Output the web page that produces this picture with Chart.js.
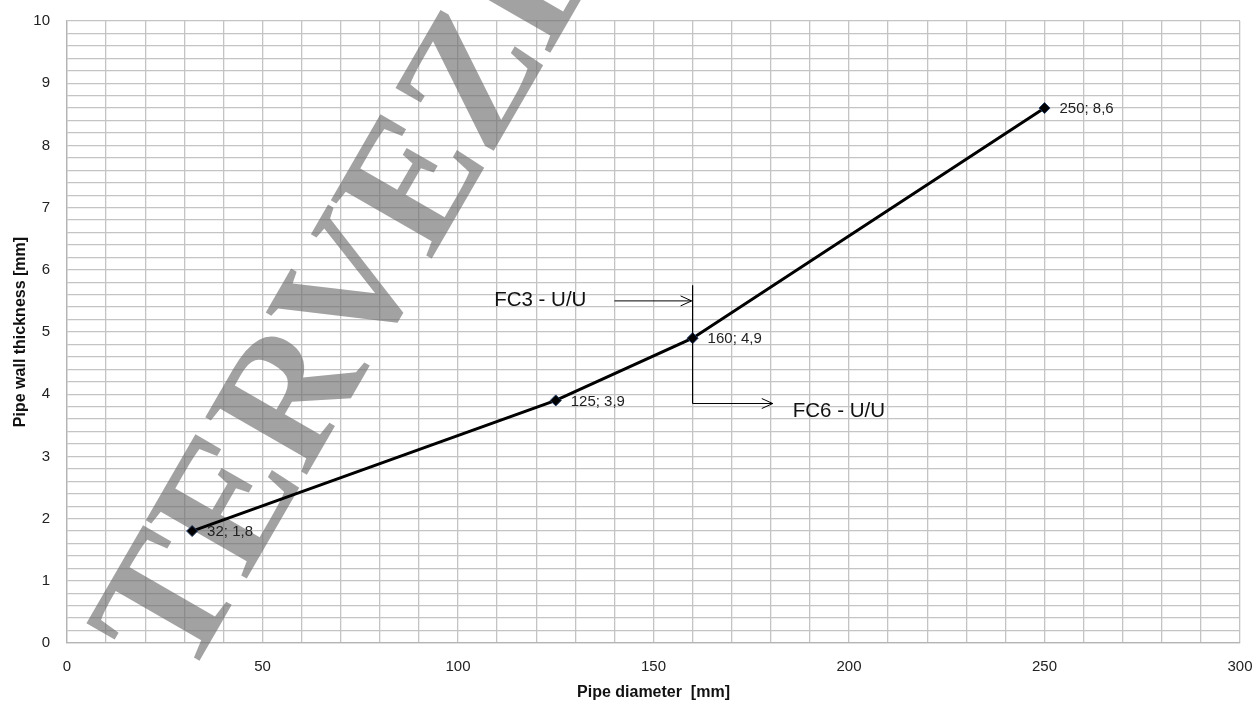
<!DOCTYPE html>
<html>
<head>
<meta charset="utf-8">
<script src="https://cdn.jsdelivr.net/npm/chart.js@4.4.1/dist/chart.umd.min.js"></script>
<style>
  html, body { margin: 0; padding: 0; background: #fff; }
  #wrap { width: 1255px; height: 702px; position: relative; }
</style>
</head>
<body>
<div id="wrap"><canvas id="pipeChart"></canvas></div>
<script>
// data
const diameters = [32, 125, 160, 250];
const thickness = [1.8, 3.9, 4.9, 8.6];
const xTickLabels = [0, 50, 100, 150, 200, 250, 300];
const yTickLabels = [0, 1, 2, 3, 4, 5, 6, 7, 8, 9, 10];

// FC3 / FC6 markers (data coords)
const fcLineX = 160;
const fcLineY = [5.75, 3.85];
const fc3Arrow = { from: 140, to: 160, y: 5.5, label: 'FC3 - U/U' };
const fc6Arrow = { from: 160, to: 180.5, y: 3.85, label: 'FC6 - U/U' };

const watermarkText = 'TERVEZET';

const fmt = v => String(v).replace('.', ',');

const watermark = {
    id: 'watermark',
    beforeDatasetsDraw(chart) {
        const c = chart.ctx;
        c.save();
        c.translate(186, 684);
        c.rotate(-60 * Math.PI / 180);
        c.font = 'bold 178px "Liberation Serif"';
        c.fillStyle = 'rgba(105,105,105,0.62)';
        c.textBaseline = 'alphabetic';
        c.fillText(watermarkText, 0, 0);
        c.restore();
    }
};

function arrow(c, x1, y1, x2, y2) {
    c.beginPath();
    c.moveTo(x1, y1);
    c.lineTo(x2, y2);
    c.stroke();
    const dir = Math.sign(x2 - x1);
    c.beginPath();
    c.moveTo(x2 - dir * 11, y1 - 5);
    c.lineTo(x2, y2);
    c.lineTo(x2 - dir * 11, y1 + 5);
    c.stroke();
}

const extras = {
    id: 'extras',
    afterDatasetsDraw(chart) {
        const c = chart.ctx;
        const xs = chart.scales.x, ys = chart.scales.y;
        c.save();
        // point labels
        c.font = '15px "Liberation Sans"';
        c.fillStyle = '#222';
        c.textBaseline = 'middle';
        diameters.forEach((d, i) => {
            c.fillText(d + '; ' + fmt(thickness[i]), xs.getPixelForValue(d) + 15, ys.getPixelForValue(thickness[i]) + 1);
        });
        // FC markers
        c.strokeStyle = '#000';
        c.lineWidth = 1.2;
        const lx = xs.getPixelForValue(fcLineX);
        c.beginPath();
        c.moveTo(lx, ys.getPixelForValue(fcLineY[0]));
        c.lineTo(lx, ys.getPixelForValue(fcLineY[1]));
        c.stroke();
        c.lineWidth = 1;
        arrow(c, xs.getPixelForValue(fc3Arrow.from), ys.getPixelForValue(fc3Arrow.y),
              xs.getPixelForValue(fc3Arrow.to) - 1, ys.getPixelForValue(fc3Arrow.y));
        arrow(c, xs.getPixelForValue(fc6Arrow.from), ys.getPixelForValue(fc6Arrow.y),
              xs.getPixelForValue(fc6Arrow.to), ys.getPixelForValue(fc6Arrow.y));
        c.font = '20.5px "Liberation Sans"';
        c.fillStyle = '#111';
        c.textAlign = 'right';
        c.fillText(fc3Arrow.label, xs.getPixelForValue(fc3Arrow.from) - 28, ys.getPixelForValue(fc3Arrow.y) - 1);
        c.textAlign = 'left';
        c.fillText(fc6Arrow.label, xs.getPixelForValue(fc6Arrow.to) + 20, ys.getPixelForValue(fc6Arrow.y) + 8);
        c.restore();
    }
};

new Chart(document.getElementById('pipeChart'), {
    type: 'scatter',
    data: {
        datasets: [{
            data: diameters.map((d, i) => ({ x: d, y: thickness[i] })),
            showLine: true,
            borderColor: '#000',
            borderWidth: 3,
            pointStyle: 'rectRot',
            pointRadius: 5.5,
            pointBackgroundColor: '#000',
            pointBorderColor: '#1f3864',
            pointBorderWidth: 1
        }]
    },
    options: {
        responsive: true,
        maintainAspectRatio: false,
        animation: false,
        layout: { padding: { left: 0, right: 15, top: 21, bottom: 0 } },
        plugins: { legend: { display: false }, tooltip: { enabled: false } },
        scales: {
            x: {
                type: 'linear',
                min: 0, max: 300,
                afterFit(s) { s.height = 59; s.paddingLeft = 0; s.paddingRight = 0; },
                ticks: {
                    stepSize: 10,
                    autoSkip: false,
                    maxRotation: 0,
                    padding: 15,
                    color: '#222',
                    font: { family: 'Liberation Sans', size: 15 },
                    callback: v => xTickLabels.includes(v) ? v : ''
                },
                grid: { color: '#c4c4c4', lineWidth: 1.3, drawTicks: false },
                border: { color: '#b4b4b4', width: 1.3 },
                title: {
                    display: true,
                    text: 'Pipe diameter  [mm]',
                    color: '#111',
                    font: { family: 'Liberation Sans', size: 16, weight: 'bold' },
                    padding: { top: 0, bottom: 0 }
                }
            },
            y: {
                type: 'linear',
                min: 0, max: 10,
                afterFit(s) { s.width = 67; s.paddingTop = 0; s.paddingBottom = 0; },
                ticks: {
                    stepSize: 0.2,
                    autoSkip: false,
                    padding: 17,
                    color: '#222',
                    font: { family: 'Liberation Sans', size: 15 },
                    callback: v => {
                        const r = Math.round(v);
                        return Math.abs(v - r) < 1e-6 && yTickLabels.includes(r) ? r : '';
                    }
                },
                grid: { color: '#c4c4c4', lineWidth: 1.3, drawTicks: false },
                border: { color: '#b4b4b4', width: 1.3 },
                title: {
                    display: true,
                    text: 'Pipe wall thickness [mm]',
                    color: '#111',
                    font: { family: 'Liberation Sans', size: 16, weight: 'bold' },
                    padding: { top: 11, bottom: 0 }
                }
            }
        }
    },
    plugins: [watermark, extras]
});
</script>
</body>
</html>
